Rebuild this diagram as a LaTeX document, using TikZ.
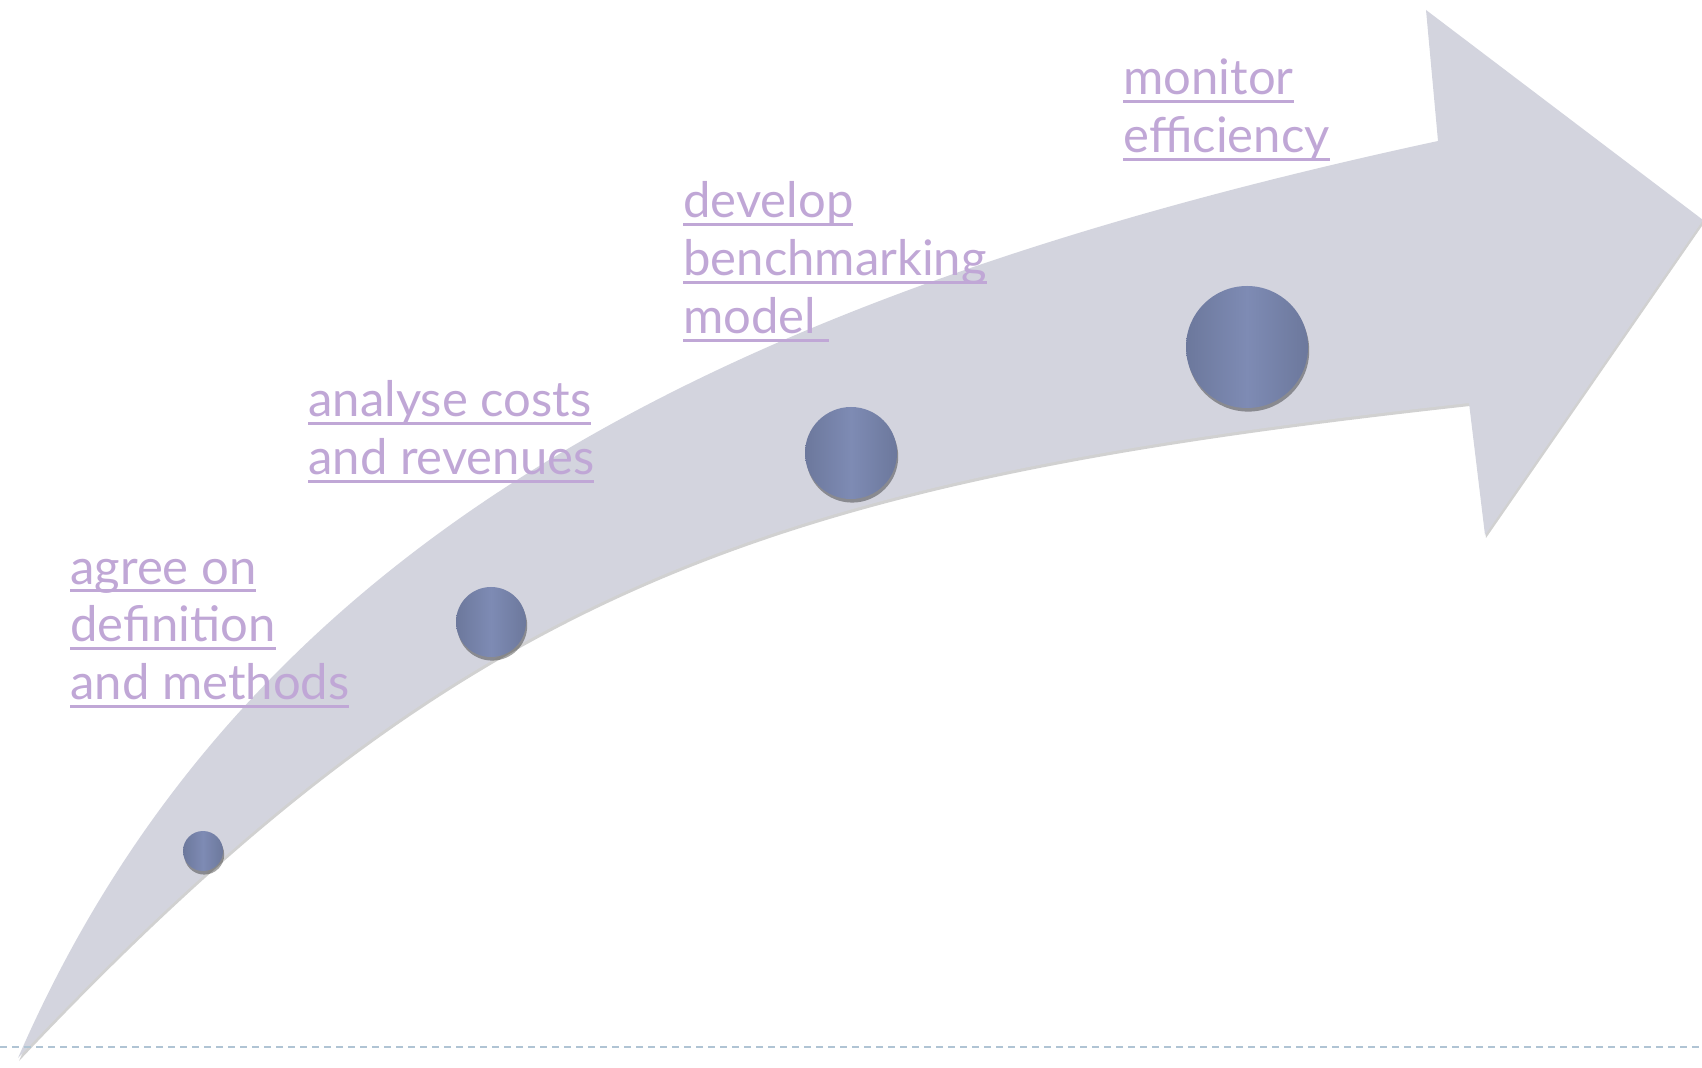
\documentclass[tikz,border=0pt]{standalone}
\usepackage{fontspec}
\setmainfont{Lato}
\usetikzlibrary{shadows}

\definecolor{arrowgrey}{RGB}{211,212,222}
\definecolor{ballside}{RGB}{108,120,156}
\definecolor{ballmid}{RGB}{126,139,180}
\definecolor{steptext}{RGB}{192,167,214}
\definecolor{rulegrey}{RGB}{176,196,212}

\newcommand{\uword}[1]{\setbox0=\hbox{#1}\rlap{\rule[-4pt]{\wd0}{1.5pt}}\box0}

\begin{document}
\begin{tikzpicture}[x=0.5pt,y=-0.5pt,
  steplabel/.style={text=steptext, align=left, anchor=base west, inner sep=0pt,
    font=\fontsize{24.5}{29}\selectfont},
  ball/.style={circle, inner sep=0pt, left color=ballside, right color=ballside,
    middle color=ballmid, drop shadow={shadow xshift=0.6pt, shadow yshift=-1.8pt, opacity=.35, fill=black}}]
\useasboundingbox (0,0) rectangle (1702,1068);

% the bent arrow
\fill[arrowgrey, drop shadow={shadow xshift=0.5pt, shadow yshift=-1.5pt, opacity=.18, fill=black}]
  (18,1058) .. controls (238,552) and (700,300) .. (1438,141)
  -- (1426,10) -- (1703,220) -- (1485,535) -- (1469,403)
  .. controls (769,480) and (468,581) .. (18,1058) -- cycle;

\coordinate (lineL) at (0,1047);
\coordinate (lineR) at (1702,1047);
\draw[rulegrey, line width=0.9pt, dash pattern=on 3.5pt off 2.5pt] (lineL) -- (lineR);

% steps
\node[ball, minimum size=20pt] (b1) at (203,851) {};
\node[ball, minimum size=35pt] (b2) at (491,622) {};
\node[ball, minimum size=46pt] (b3) at (851,453) {};
\node[ball, minimum size=61pt] (b4) at (1247,347) {};

\node[steplabel] (t1) at (70,700) {\uword{agree on}\\\uword{definition}\\\uword{and methods}};
\node[steplabel] (t2) at (308,475) {\uword{analyse costs}\\\uword{and revenues}};
\node[steplabel] (t3) at (683,334) {\uword{develop}\\\uword{benchmarking}\\\uword{model\ }};
\node[steplabel] (t4) at (1123,153) {\uword{monitor}\\\uword{efficiency}};
\end{tikzpicture}
\end{document}
